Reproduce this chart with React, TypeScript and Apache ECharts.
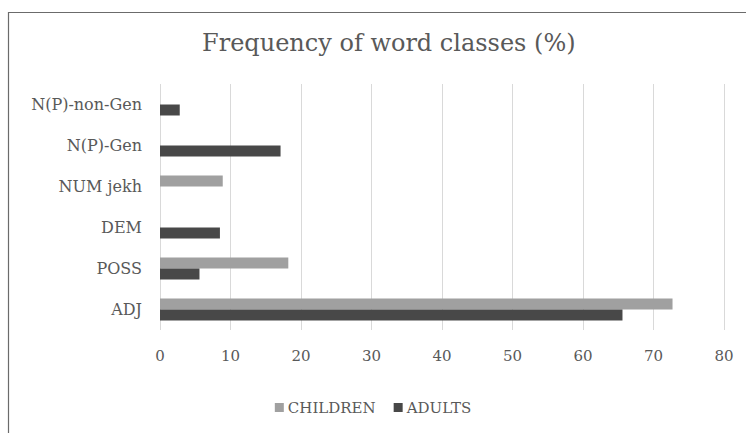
import React, { useEffect, useRef } from "react";
import * as echarts from "echarts";

const categories = ["ADJ", "POSS", "DEM", "NUM jekh", "N(P)-Gen", "N(P)-non-Gen"];
const children = [72.7, 18.2, null, 8.9, null, null];
const adults = [65.6, 5.6, 8.5, null, 17.1, 2.8];
const xTicks = { min: 0, max: 80, interval: 10 };

const FONT = "DejaVu Serif";

export default function App() {
  const ref = useRef<HTMLDivElement>(null);
  useEffect(() => {
    const chart = echarts.init(ref.current!, null, { renderer: "svg" });
    chart.setOption({
      animation: false,
      backgroundColor: "#ffffff",
      textStyle: { fontFamily: FONT },
      title: {
        text: "Frequency of word classes (%)",
        left: 197,
        top: 26,
        textStyle: { fontFamily: FONT, fontSize: 24, fontWeight: "normal", color: "#595959" },
      },
      graphic: [
        {
          type: "rect",
          shape: { x: 8.5, y: 12.5, width: 800, height: 500 },
          style: { fill: "none", stroke: "#6b6b6b", lineWidth: 1.2 },
          silent: true,
        },
      ],
      legend: {
        bottom: 13,
        left: "center",
        itemWidth: 9,
        itemHeight: 9,
        itemGap: 18,
        icon: "rect",
        textStyle: { fontFamily: FONT, fontSize: 15, color: "#595959", padding: [0, 0, 0, -1] },
        data: ["CHILDREN", "ADULTS"],
      },
      grid: { left: 160, right: 22, top: 84, bottom: 103 },
      xAxis: {
        type: "value",
        min: xTicks.min,
        max: xTicks.max,
        interval: xTicks.interval,
        axisLine: { show: false },
        axisTick: { show: false },
        axisLabel: { fontFamily: FONT, fontSize: 15, color: "#595959", margin: 18 },
        splitLine: { show: true, lineStyle: { color: "#d9d9d9", width: 1 } },
      },
      yAxis: {
        type: "category",
        data: categories,
        axisLine: { show: false },
        axisTick: { show: false },
        axisLabel: { fontFamily: FONT, fontSize: 16, color: "#595959", margin: 18 },
      },
      series: [
        {
          name: "CHILDREN",
          type: "bar",
          data: children,
          barWidth: 11,
          barGap: "0%",
          itemStyle: { color: "#a0a0a0" },
        },
        {
          name: "ADULTS",
          type: "bar",
          data: adults,
          barWidth: 11,
          barGap: "0%",
          itemStyle: { color: "#484848" },
        },
      ],
    });
    return () => chart.dispose();
  }, []);
  return (
    <div
      ref={ref}
      style={{ position: "fixed", left: 0, top: 0, width: 746, height: 433 }}
    />
  );
}
